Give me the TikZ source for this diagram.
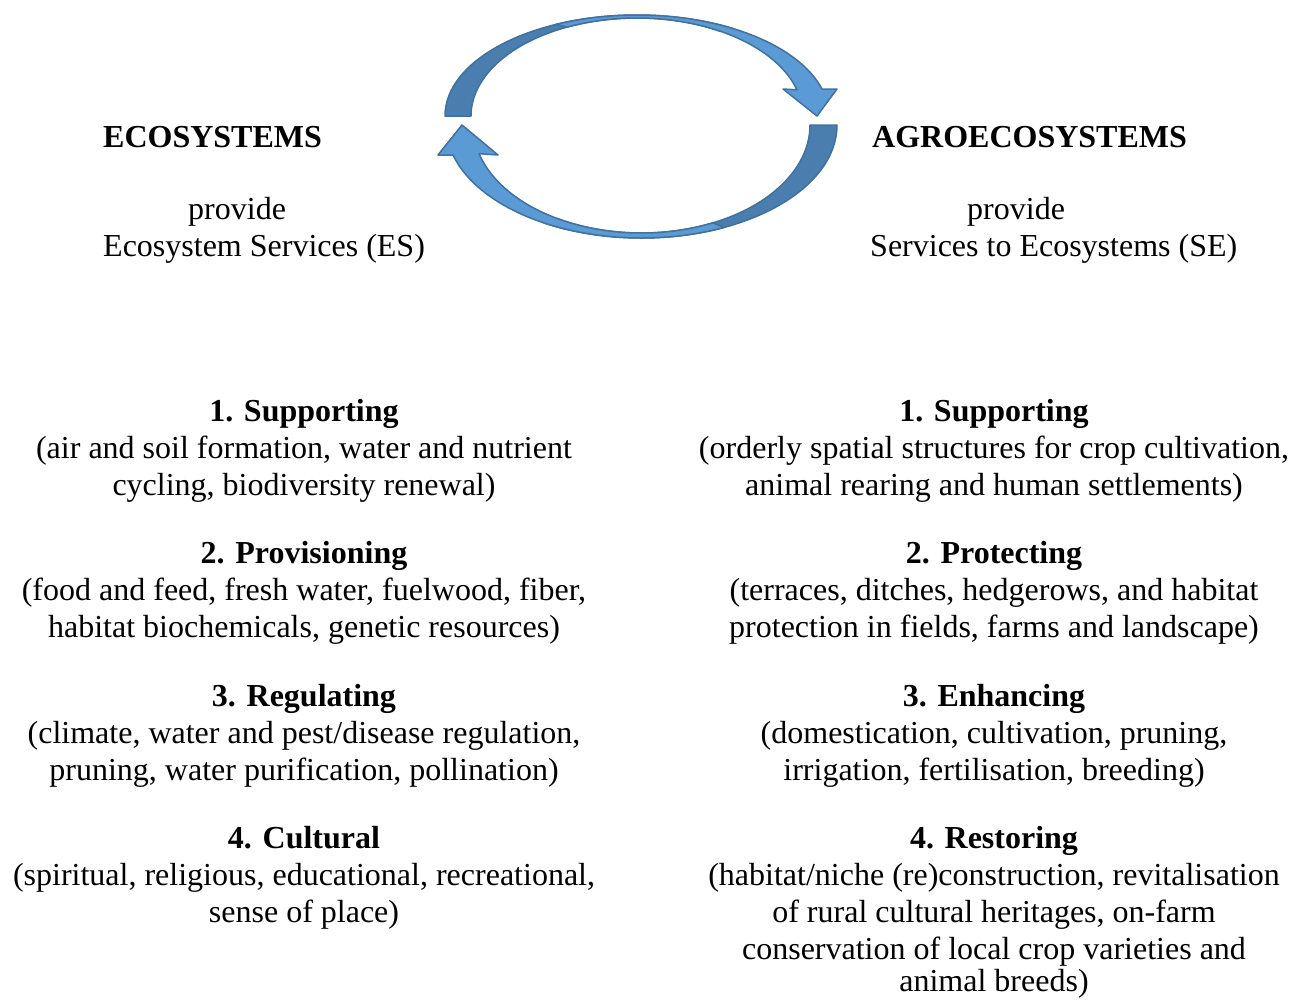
\documentclass[tikz,border=0pt]{standalone}
\usepackage{fontspec}
\setmainfont{Liberation Serif}
\usetikzlibrary{calc}
\definecolor{arrlight}{HTML}{5B9BD5}
\definecolor{arrdark}{HTML}{4A7EAF}
\definecolor{arrline}{HTML}{41719C}
\begin{document}
\begin{tikzpicture}[x=1pt,y=-1pt,
  txt/.style={inner sep=0pt, anchor=base, font=\fontsize{32}{37}\selectfont},
  txtw/.style={txt, anchor=base west},
  darkpart/.style={fill=arrdark, draw=arrline, line width=1.5pt, line join=round},
  lightpart/.style={fill=arrlight, draw=arrline, line width=1.5pt, line join=round}]
\useasboundingbox (0,0) rectangle (1298,999);

% ---- top curved arrow (ECOSYSTEMS -> AGROECOSYSTEMS)
\coordinate (tc) at (637,116);
\path[darkpart] ($(tc)+(180:192 and 101)$)
  arc[start angle=180, end angle=300, x radius=192, y radius=101]
  -- ($(tc)+(300:166 and 98)$)
  arc[start angle=300, end angle=180, x radius=166, y radius=98] -- cycle;
\path[lightpart] ($(tc)+(245:192 and 101)$)
  arc[start angle=245, end angle=344.5, x radius=192, y radius=101]
  -- (837,89) -- (817,116) -- (783,89)
  -- ($(tc)+(344.5:166 and 98)$)
  arc[start angle=344.5, end angle=245, x radius=166, y radius=98] -- cycle;

% ---- bottom curved arrow (AGROECOSYSTEMS -> ECOSYSTEMS)
\coordinate (bc) at (641.5,125);
\path[darkpart] ($(bc)+(0:195.5 and 113)$)
  arc[start angle=0, end angle=120, x radius=195.5, y radius=113]
  -- ($(bc)+(120:168.5 and 108)$)
  arc[start angle=120, end angle=0, x radius=168.5, y radius=108] -- cycle;
\path[lightpart] ($(bc)+(65:195.5 and 113)$)
  arc[start angle=65, end angle=164.6, x radius=195.5, y radius=113]
  -- (438,155) -- (462,125) -- (498,155)
  -- ($(bc)+(164.6:168.5 and 108)$)
  arc[start angle=164.6, end angle=65, x radius=168.5, y radius=108] -- cycle;

% ---- upper texts
\node[txtw] (eco) at (103,147) {\bfseries ECOSYSTEMS};
\node[txtw] (ecoprov) at (188,219) {provide};
\node[txtw] (ecoes) at (103,256) {Ecosystem Services (ES)};
\node[txtw] (agro) at (872,147) {\bfseries AGROECOSYSTEMS};
\node[txtw] (agroprov) at (967,219) {provide};
\node[txtw] (agrose) at (870,256) {Services to Ecosystems (SE)};

% ---- left column
\node[txt] (l1h) at (304,421) {\bfseries 1. Supporting};
\node[txt] (l1a) at (304,458) {(air and soil formation, water and nutrient};
\node[txt] (l1b) at (304,495) {cycling, biodiversity renewal)};
\node[txt] (l2h) at (304,563) {\bfseries 2. Provisioning};
\node[txt] (l2a) at (304,600) {(food and feed, fresh water, fuelwood, fiber,};
\node[txt] (l2b) at (304,637) {habitat biochemicals, genetic resources)};
\node[txt] (l3h) at (304,706) {\bfseries 3. Regulating};
\node[txt] (l3a) at (304,743) {(climate, water and pest/disease regulation,};
\node[txt] (l3b) at (304,780) {pruning, water purification, pollination)};
\node[txt] (l4h) at (304,848) {\bfseries 4. Cultural};
\node[txt] (l4a) at (304,885) {(spiritual, religious, educational, recreational,};
\node[txt] (l4b) at (304,922) {sense of place)};

% ---- right column
\node[txt] (r1h) at (994,421) {\bfseries 1. Supporting};
\node[txt] (r1a) at (994,458) {(orderly spatial structures for crop cultivation,};
\node[txt] (r1b) at (994,495) {animal rearing and human settlements)};
\node[txt] (r2h) at (994,563) {\bfseries 2. Protecting};
\node[txt] (r2a) at (994,600) {(terraces, ditches, hedgerows, and habitat};
\node[txt] (r2b) at (994,637) {protection in fields, farms and landscape)};
\node[txt] (r3h) at (994,706) {\bfseries 3. Enhancing};
\node[txt] (r3a) at (994,743) {(domestication, cultivation, pruning,};
\node[txt] (r3b) at (994,780) {irrigation, fertilisation, breeding)};
\node[txt] (r4h) at (994,848) {\bfseries 4. Restoring};
\node[txt] (r4a) at (994,885) {(habitat/niche (re)construction, revitalisation};
\node[txt] (r4b) at (994,922) {of rural cultural heritages, on-farm};
\node[txt] (r4c) at (994,959) {conservation of local crop varieties and};
\node[txt] (r4d) at (994,991) {animal breeds)};
\end{tikzpicture}
\end{document}
